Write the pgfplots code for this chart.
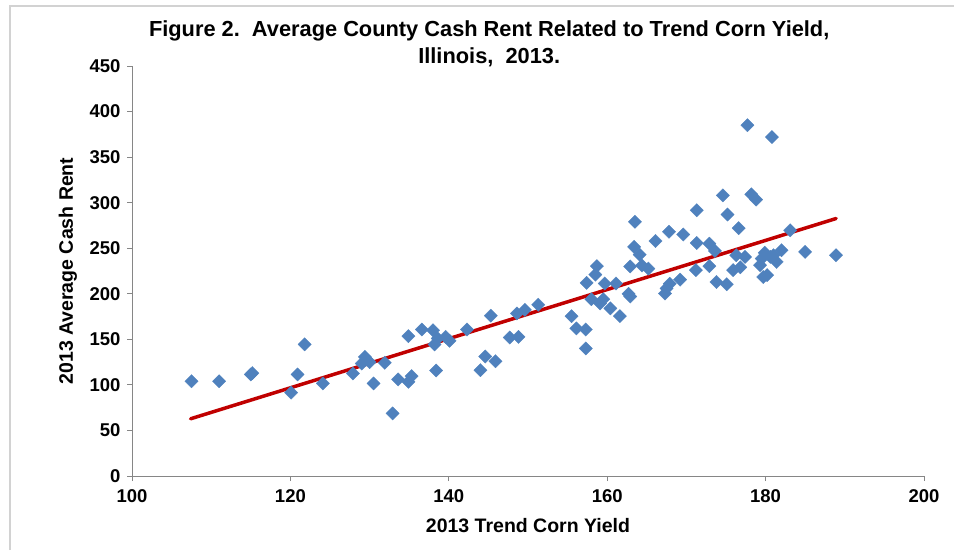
\documentclass[border=0pt]{standalone}
\usepackage{fontspec}
\setmainfont{Liberation Sans}
\usepackage{pgfplots}
\pgfplotsset{compat=1.18}
\definecolor{exblue}{HTML}{4F81BD}
\definecolor{exred}{HTML}{C00000}
\definecolor{axgray}{HTML}{868686}
\begin{document}
\begin{tikzpicture}
\path[use as bounding box] (0,0) rectangle (954pt,550pt);
\draw[gray!35, line width=1.2pt] (10pt,0) -- (10pt,544pt) -- (954pt,544pt);
\begin{axis}[
  at={(132pt,74pt)}, anchor=south west,
  scale only axis, width=792pt, height=410pt,
  xmin=100, xmax=200, ymin=0, ymax=450,
  xtick={100,120,...,200}, ytick={0,50,...,450},
  axis lines*=left,
  axis line style={axgray, line width=1pt},
  tick style={axgray, line width=1pt},
  tick align=outside, major tick length=5pt,
  /pgf/number format/assume math mode=true,
  tick label style={font=\fontsize{18.5}{20}\selectfont\bfseries},
  xticklabel style={yshift=-5pt},
  yticklabel style={xshift=-3pt},
  label style={font=\fontsize{19.5}{22}\selectfont\bfseries},
  xlabel={2013 Trend Corn Yield},
  ylabel={2013 Average Cash Rent},
  xlabel style={at={(axis description cs:0.5,-0.12)}, anchor=center},
  ylabel style={at={(axis description cs:-0.081,0.5)}, anchor=center},
  title={Figure 2.\ \ Average County Cash Rent Related to Trend Corn Yield,\\Illinois,\ \ 2013.},
  title style={at={(axis description cs:0.451,1.04)}, anchor=center, align=center,
    font=\fontsize{21.8}{27}\selectfont\bfseries},
  clip=false,
]
\addplot[only marks, mark=square*, mark size=4.7pt,
  mark options={rotate=45, fill=exblue, draw=exblue, line width=0.3pt}] coordinates {
(107.5,104) (111.0,104) (115.0,111.5) (115.2,113) (120.1,91.5) (120.9,111.5)
(121.8,144.5) (124.1,101.6) (127.9,112.6) (129.0,123.5) (129.4,130.8) (129.6,128)
(130.0,125) (130.5,101.6) (131.9,124.3) (132.9,68.7) (133.6,106) (134.9,153.5)
(134.9,103.4) (135.3,109.6) (136.6,160.8) (138.0,160) (138.2,144.4) (138.4,115.8)
(138.6,151) (139.6,152.8) (140.1,148.4) (142.3,160.8) (144.0,116.2) (144.6,131.2)
(145.3,176) (145.9,126) (147.7,152) (148.6,178.4) (148.8,152.7) (149.6,182.4)
(151.3,188) (155.5,175.4) (156.1,162) (157.3,160.8) (157.3,140) (157.4,212)
(158.0,194) (158.5,221) (158.7,230.3) (159.1,189.4) (159.5,194) (159.7,211.3)
(160.4,184) (161.1,211.3) (161.6,175.4) (162.7,200) (162.9,197) (162.9,230)
(163.4,251.5) (163.5,279) (164.1,243) (164.4,231) (165.2,227.7) (166.1,258)
(167.3,200.3) (167.5,205.8) (167.9,211) (167.8,268) (169.2,215.5) (169.6,265)
(171.2,226) (171.3,291.7) (171.3,255.8) (172.9,255) (172.9,230.3) (173.6,247)
(173.8,213) (174.6,308) (175.1,210.5) (175.2,287) (175.9,226) (176.3,242.3)
(176.6,272) (176.8,229) (177.4,240.5) (177.7,385) (178.2,309.2) (178.8,303.4)
(179.3,231.4) (179.5,238.7) (179.7,218.5) (180.2,220.5) (179.9,245) (180.6,240.5)
(180.8,372) (181.0,242.3) (181.4,235) (182.0,247.8) (183.1,269.7) (185.0,246)
(188.9,242.3)
};
\addplot[exred, line width=3.5pt, line cap=round] coordinates {(107.4,62.8) (188.9,282.6)};
\end{axis}
\end{tikzpicture}
\end{document}
